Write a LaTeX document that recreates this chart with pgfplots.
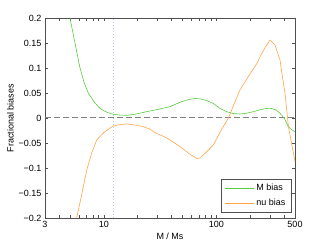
\documentclass[border=0pt]{standalone}
\usepackage{fontspec}
\setmainfont{Liberation Sans}
\usepackage{pgfplots}
\pgfplotsset{compat=1.18}
\definecolor{mgreen}{RGB}{85,205,60}
\definecolor{norange}{RGB}{255,165,70}
\definecolor{dotblue}{RGB}{190,190,255}
\definecolor{axgray}{RGB}{80,80,80}
\begin{document}
\begin{tikzpicture}[x=1pt,y=1pt]
\useasboundingbox (0,0) rectangle (327,245);
\begin{axis}[
  at={(45pt,27pt)}, anchor=south west,
  scale only axis, width=250pt, height=200pt,
  xmode=log, xmin=3, xmax=500, ymin=-0.2, ymax=0.2,
  xtick={3,10,100,500}, xticklabels={3,10,100,500},
  minor xtick={4,5,6,7,8,9,20,30,40,50,60,70,80,90,200,300,400},
  ytick={-0.2,-0.15,-0.1,-0.05,0,0.05,0.1,0.15,0.2},
  yticklabels={−0.2,−0.15,−0.1,−0.05,0,0.05,0.1,0.15,0.2},
  tick align=inside, major tick length=3pt, minor tick length=3pt,
  axis line style={draw=axgray},
  every tick/.style={draw=axgray, line width=0.5pt},
  tick label style={font=\fontsize{9}{10}\selectfont},
  label style={font=\fontsize{9}{10}\selectfont},
  xlabel={M / Ms}, ylabel={Fractional biases},
  xlabel style={yshift=2pt},
  ylabel style={yshift=-2pt},
  legend style={at={(0.984,0.027)}, anchor=south east, draw=axgray, fill=white,
    font=\fontsize{9}{10}\selectfont, row sep=3.5pt, inner xsep=3.5pt, inner ysep=3pt},
  legend cell align=left,
  legend image code/.code={\draw[#1] (0pt,0pt) -- (29pt,0pt);},
]
\addplot[draw=black!50, line width=1pt, dash pattern=on 6pt off 3pt, forget plot] coordinates {(3,0) (500,0)};
\addplot[color=dotblue, line width=0.9pt, dash pattern=on 1.2pt off 1.8pt, forget plot] coordinates {(12.1,-0.2) (12.1,0.2)};
\addplot[mgreen, line width=0.6pt] coordinates {
(5.0,0.2) (5.54,0.15) (6.14,0.1) (6.7,0.07) (7.28,0.05) (8.2,0.032) (9.25,0.019)
(10.5,0.012) (12.1,0.0074) (14,0.0058) (16,0.0054) (19,0.0075) (24,0.0126) (30,0.017)
(38.7,0.0226) (48,0.032) (57,0.037) (64.6,0.039) (73,0.038) (82,0.035) (94,0.029)
(108,0.019) (123.5,0.0126) (140,0.009) (162,0.008) (185,0.0095) (213,0.0126) (250,0.017)
(285,0.0195) (310,0.019) (340,0.016) (368,0.0094) (400,0.0) (437,-0.0174) (470,-0.024) (500,-0.0274)
};
\addlegendentry{M bias}
\addplot[norange, line width=0.6pt] coordinates {
(5.74,-0.2) (6.4,-0.15) (7.05,-0.104) (7.8,-0.07) (8.65,-0.044) (10,-0.029) (12.1,-0.016)
(14,-0.013) (16,-0.012) (19,-0.014) (22.4,-0.0174) (25.5,-0.022) (29.5,-0.031) (34,-0.037)
(38.7,-0.044) (47.5,-0.057) (57,-0.071) (67,-0.081) (72,-0.08) (76.6,-0.074) (85,-0.064)
(94,-0.054) (110,-0.025) (128,0) (145,0.03) (162,0.056) (195,0.085) (229,0.109)
(253,0.129) (275,0.143) (300,0.156) (332,0.146) (350,0.13) (368,0.116) (385,0.085)
(408,0.049) (437,-0.017) (470,-0.055) (500,-0.087)
};
\addlegendentry{nu bias}
\end{axis}
\end{tikzpicture}
\end{document}
